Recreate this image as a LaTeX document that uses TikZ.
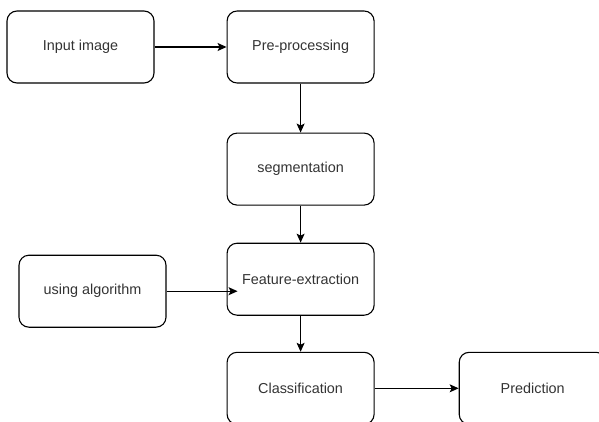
\documentclass[tikz,border=0pt]{standalone}
\usepackage{fontspec}
\setmainfont{Liberation Sans}
\usetikzlibrary{positioning,arrows.meta}

\begin{document}
\begin{tikzpicture}
      [
        x=1pt, y=1pt,
        blk/.style={rectangle, rounded corners=10pt, draw=black, line width=1.1pt, minimum width=147pt, minimum height=72pt, text=black!80, font=\fontsize{14.4}{17}\selectfont},
        arr/.style={-{Stealth[length=9pt,width=8pt,inset=2pt]}, line width=1.1pt}
      ]
      \useasboundingbox (0,0) rectangle (599,-421);
      \clip (0,0) rectangle (599,-421);
      \node[blk] (inp) at (80.5,-47) {Input image};
      \node[blk] (pre) [right=72pt of inp] {Pre-processing};
      \node[blk] (seg) [below=49pt of pre] {segmentation};
      \node[blk] (fe) [below=37pt of seg] {Feature-extraction};
      \node[blk] (ua) [left=60pt of fe, yshift=-12pt] {using algorithm};
      \node[blk] (cls) [below=36pt of fe] {Classification};
      \node[blk] (pred) [right=84pt of cls] {Prediction};
      \coordinate (fein) at ([xshift=11pt]fe.west |- ua.east);
      \draw[arr] (inp) -- (pre);
      \draw[arr] (pre) -- (seg);
      \draw[arr] (seg) -- (fe);
      \draw[arr] (ua.east) -- (fein);
      \draw[arr] (fe) -- (cls);
      \draw[arr] (cls) -- (pred);
    \end{tikzpicture}
\end{document}
